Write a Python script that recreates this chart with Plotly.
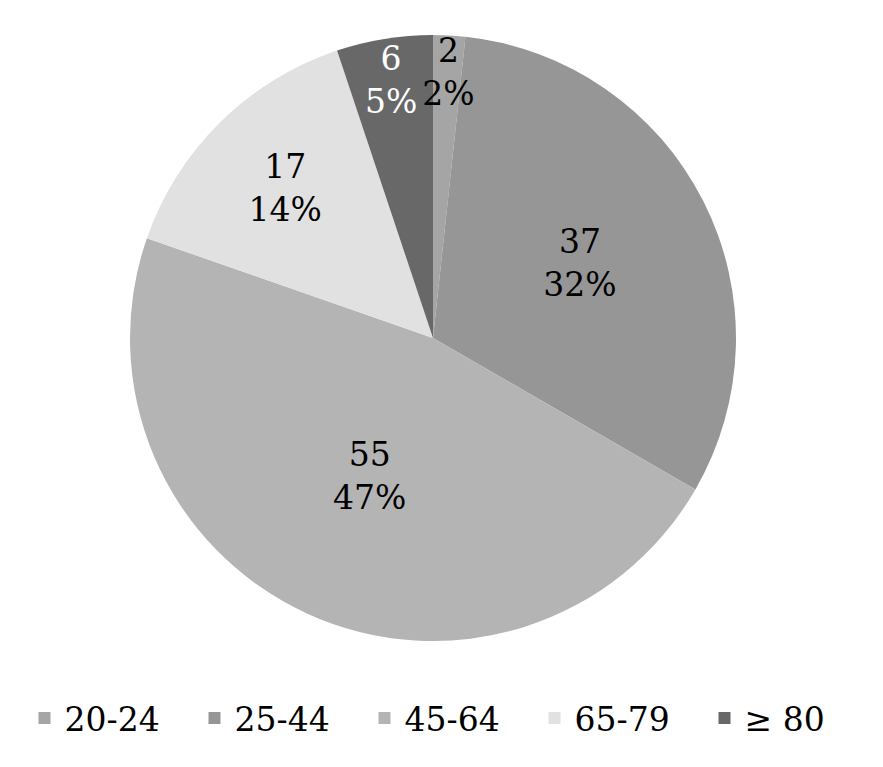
import plotly.graph_objects as go

categories = ["20-24", "25-44", "45-64", "65-79", "≥ 80"]
counts = [2, 37, 55, 17, 6]
percent_labels = ["2%", "32%", "47%", "14%", "5%"]
colors = ["#a5a5a5", "#969696", "#b4b4b4", "#e1e1e1", "#686868"]
text_colors = ["black", "black", "black", "black", "white"]

SERIF = "DejaVu Serif"
W, H = 883, 767
cx, cy, r = 425, 330, 303
dom = dict(x=[(cx - r) / W, (cx + r) / W], y=[(H - cy - r) / H, (H - cy + r) / H])

labels_text = [f"{c}<br>{p}" for c, p in zip(counts, percent_labels)]
labels_text[0] = "\u00a0<br>" + labels_text[0]

fig = go.Figure()
fig.add_trace(go.Pie(
    labels=categories,
    values=counts,
    textinfo="none",
    marker=dict(colors=colors, line=dict(width=0)),
    sort=False,
    direction="clockwise",
    rotation=0,
    hoverinfo="label+value",
    domain=dom,
))
fig.add_trace(go.Pie(
    labels=categories,
    values=counts,
    text=labels_text,
    textinfo="text",
    textposition="inside",
    insidetextorientation="horizontal",
    insidetextfont=dict(family=SERIF, size=33, color=text_colors),
    marker=dict(colors=["rgba(0,0,0,0)"] * len(counts), line=dict(width=0)),
    sort=False,
    direction="clockwise",
    rotation=0,
    hoverinfo="skip",
    showlegend=False,
    domain=dom,
))

fig.update_layout(
    width=W, height=H,
    margin=dict(l=0, r=0, t=0, b=0),
    paper_bgcolor="white",
    font=dict(family=SERIF, size=33, color="black"),
    uniformtext=dict(minsize=33, mode="show"),
    legend=dict(
        orientation="h",
        x=0.5, xanchor="center",
        y=(H - 710) / H, yanchor="middle",
        font=dict(family=SERIF, size=33, color="black"),
        entrywidth=125, entrywidthmode="pixels",
        traceorder="normal",
    ),
)

fig.write_html("out.html")
